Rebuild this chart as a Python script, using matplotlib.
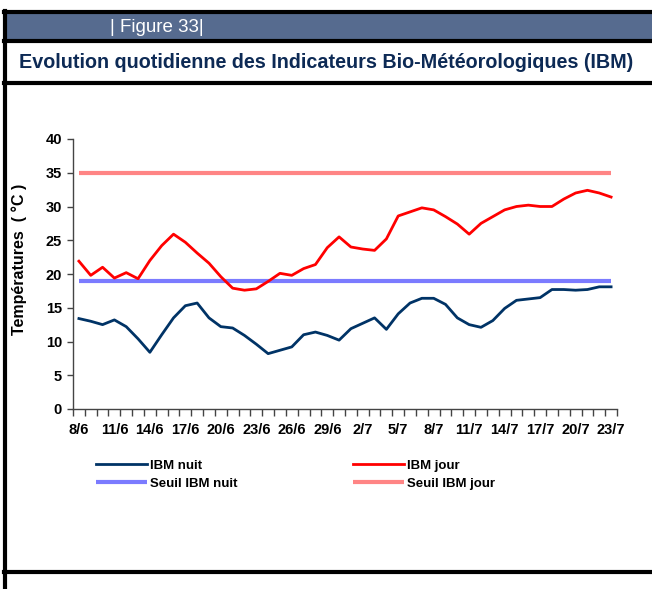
import numpy as np
import matplotlib.pyplot as plt
from matplotlib.patches import Rectangle
from matplotlib.lines import Line2D

# Daily values, 8 June -> 23 July
days = ["8/6", "9/6", "10/6", "11/6", "12/6", "13/6", "14/6", "15/6", "16/6", "17/6",
        "18/6", "19/6", "20/6", "21/6", "22/6", "23/6", "24/6", "25/6", "26/6", "27/6",
        "28/6", "29/6", "30/6", "1/7", "2/7", "3/7", "4/7", "5/7", "6/7", "7/7",
        "8/7", "9/7", "10/7", "11/7", "12/7", "13/7", "14/7", "15/7", "16/7", "17/7",
        "18/7", "19/7", "20/7", "21/7", "22/7", "23/7"]

ibm_nuit = [13.4, 13.0, 12.5, 13.2, 12.2, 10.4, 8.4, 11.0, 13.5, 15.3,
            15.7, 13.5, 12.2, 12.0, 10.9, 9.6, 8.2, 8.7, 9.2, 11.0,
            11.4, 10.9, 10.2, 11.9, 12.7, 13.5, 11.8, 14.1, 15.7, 16.4,
            16.4, 15.5, 13.5, 12.5, 12.1, 13.1, 14.9, 16.1, 16.3, 16.5,
            17.7, 17.7, 17.6, 17.7, 18.1, 18.1]

ibm_jour = [21.9, 19.8, 21.0, 19.4, 20.2, 19.3, 22.0, 24.2, 25.9, 24.7,
            23.1, 21.6, 19.6, 17.9, 17.6, 17.8, 18.9, 20.1, 19.8, 20.8,
            21.4, 23.9, 25.5, 24.0, 23.7, 23.5, 25.2, 28.6, 29.2, 29.8,
            29.5, 28.5, 27.4, 25.9, 27.5, 28.5, 29.5, 30.0, 30.2, 30.0,
            30.0, 31.1, 32.0, 32.4, 32.0, 31.4]

seuil_nuit = [19] * len(days)
seuil_jour = [35] * len(days)

W, H = 652, 589
fig = plt.figure(figsize=(W / 100, H / 100), dpi=100)
plt.rcParams['font.family'] = ['Liberation Sans', 'DejaVu Sans']

def fx(px):
    return px / W

def fy(py):
    return 1 - py / H

# Header band and frame
fig.add_artist(Rectangle((fx(5), fy(41)), 1 - fx(5), (41 - 12) / H,
                         transform=fig.transFigure, facecolor="#566b8f", edgecolor="none"))
for y in (12, 41, 83, 572):
    fig.add_artist(Line2D([fx(4), 1], [fy(y), fy(y)], transform=fig.transFigure,
                          color="black", lw=3))
fig.add_artist(Line2D([fx(5), fx(5)], [fy(11), 0], transform=fig.transFigure,
                      color="black", lw=3))

fig.text(fx(110), fy(27), "| Figure 33|", color="white", fontsize=13.5,
         ha="left", va="center")
fig.text(fx(19), fy(62), "Evolution quotidienne des Indicateurs Bio-Météorologiques (IBM)",
         color="#0d2a55", fontsize=14.2, fontweight="bold", ha="left", va="center")

# Chart
ax = fig.add_axes([fx(73), fy(409), (617 - 73) / W, (409 - 139) / H])
x = np.arange(len(days))

ax.plot(x, seuil_nuit, color="#7b7bff", lw=3.0, solid_capstyle="butt", label="Seuil IBM nuit")
ax.plot(x, seuil_jour, color="#ff8585", lw=3.0, solid_capstyle="butt", label="Seuil IBM jour")
ax.plot(x, ibm_nuit, color="#003366", lw=2, label="IBM nuit")
ax.plot(x, ibm_jour, color="#ff0000", lw=2, label="IBM jour")

ax.set_xlim(-0.5, len(days) - 0.5)
ax.set_ylim(0, 40)
ax.set_yticks(range(0, 41, 5))
ax.set_xticks(x[::3])
ax.set_xticklabels(days[::3])
ax.set_xticks(np.arange(-0.5, len(days), 1), minor=True)
ax.tick_params(axis="x", which="major", length=0, pad=10)
ax.tick_params(axis="x", which="minor", length=5, width=1, color="#444444", direction="out")
ax.tick_params(axis="y", length=4, width=1, color="#444444", pad=4)
for lab in ax.get_xticklabels() + ax.get_yticklabels():
    lab.set_fontweight("bold")
    lab.set_fontsize(10.5)

for s in ("top", "right"):
    ax.spines[s].set_visible(False)
for s in ("left", "bottom"):
    ax.spines[s].set_color("#444444")
    ax.spines[s].set_linewidth(1)

ax.set_ylabel("Températures  ( °C )", fontsize=11.5, fontweight="bold")
ax.yaxis.set_label_coords(-0.084, 0.556)

handles, labels = ax.get_legend_handles_labels()
order = [2, 0, 3, 1]
fig.legend([handles[i] for i in order], [labels[i] for i in order],
           loc="upper left", bbox_to_anchor=(fx(91), fy(454)), ncol=2,
           frameon=False, prop={"weight": "bold", "size": 9.5},
           handlelength=3.85, handletextpad=0.2, columnspacing=8.8,
           labelspacing=0.45, borderaxespad=0)

fig.savefig("out.png", dpi=100)
